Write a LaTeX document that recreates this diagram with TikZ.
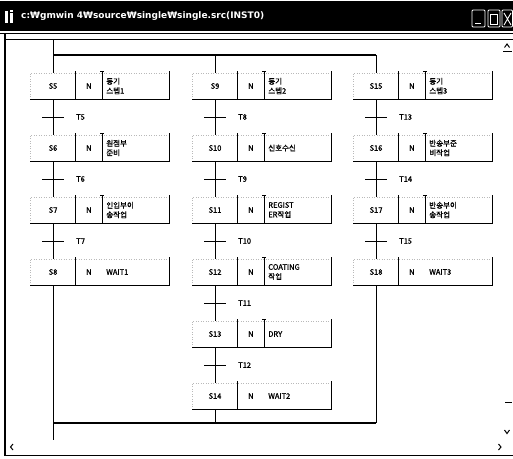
\documentclass[tikz,border=0pt]{standalone}
\usepackage{fontspec}
\newfontfamily\kr[FakeBold=1.2]{Noto Sans CJK KR}
\newfontfamily\dv{DejaVu Sans}
\tikzset{
  lab/.style={font=\kr\fontsize{7.5}{9.5}\selectfont},
  stepbox/.style={lab, minimum width=45pt, minimum height=26pt, inner sep=0pt},
  ncell/.style={lab, minimum width=26pt, minimum height=26pt, inner sep=0pt},
  acell/.style={lab, minimum height=26pt, inner xsep=4pt, inner ysep=0pt, text width=59pt, align=left},
  faint/.style={gray!55, dotted, line width=0.5pt},
  boxline/.style={black, line width=0.8pt},
  rail/.style={black, line width=1.7pt},
  conn/.style={black, line width=0.8pt},
  tlabel/.style={lab, anchor=west, inner sep=0pt},
  winline/.style={black, line width=1.4pt},
  glyph/.style={black, line width=1pt},
  btn/.style={white, line width=0.8pt, rounded corners=1pt},
}
\newcommand\sfcstep[5]{%
  \node[stepbox] (#1) at (#2,#3) {#4};
  \node[ncell, anchor=west] (#1n) at (#1.east) {N};
  \node[acell, anchor=west] (#1a) at (#1n.east) {#5};
  \draw[faint] (#1.south west) -- (#1.north west) -- (#1a.north east);
  \draw[boxline] (#1.south west) -- (#1a.south east) -- ([yshift=1.5pt]#1a.north east);
  \draw[boxline] (#1.south east) -- ([yshift=1.5pt]#1.north east);
}
\newcommand\sfcdiv[1]{%
  \draw[boxline] (#1n.south east) -- ([yshift=1.5pt]#1n.north east);
  \draw[boxline] ([xshift=-1.8pt,yshift=1.5pt]#1n.north east) -- ([xshift=1.8pt,yshift=1.5pt]#1n.north east);
}
\newcommand\sfctrans[4]{%
  \coordinate (#1) at (#2,#3);
  \draw[conn] ([xshift=-11pt]#1) -- ([xshift=11pt]#1);
  \node[tlabel] (#1l) at ([xshift=23pt]#1) {#4};
}
\begin{document}
\begin{tikzpicture}[x=1pt,y=-1pt]
\useasboundingbox (0,0) rectangle (513,458);
\fill[white] (0,0) rectangle (513,458);
% window frame
\fill[black] (0,1) rectangle (513,31);
\node[anchor=west, text=white, inner sep=0pt, font=\dv\bfseries\fontsize{9}{11}\selectfont] (title) at (21,16) {c:₩gmwin 4₩source₩single₩single.src(INST0)};
\fill[white] (5,11) rectangle (7.5,23);
\fill[white] (10,13) rectangle (12.5,23);
\fill[white] (10,9.5) rectangle (12.5,11.5);
\draw[btn] (472,10) rectangle (485,27);
\draw[btn] (475,23) -- (481,23);
\draw[btn] (488,10) rectangle (500,27);
\draw[white, line width=0.7pt] (490.5,14) rectangle (497.5,24);
\draw[btn] (502,10) rectangle (512.5,27);
\draw[white, line width=0.9pt] (504,13) -- (511,25) (511,13) -- (504,25);
\draw[winline] (0,33.5) -- (513,33.5);
\draw[black, line width=1pt] (5,39) -- (513,39);
\draw[black, line width=2pt] (5,33) -- (5,456);
\draw[winline] (5,455.5) -- (513,455.5);
% scroll glyphs
\draw[glyph] (504.5,47.5) -- (507,44) -- (509.5,47.5);
\draw[glyph] (503,51) -- (512,51);
\draw[glyph] (505,402) -- (512,402);
\draw[glyph] (504.5,430) -- (507,433.5) -- (509.5,430);
\draw[glyph] (13,444) -- (10.5,447) -- (13,450);
\draw[glyph] (498.5,444) -- (501,447) -- (498.5,450);
% column 1
\sfcstep{s5}{53}{86}{S5}{동기\\스텝1}\sfcdiv{s5}
\sfcstep{s6}{53}{148}{S6}{원점부\\준비}\sfcdiv{s6}
\sfcstep{s7}{53}{210}{S7}{인입부이\\송작업}\sfcdiv{s7}
\sfcstep{s8}{53}{272}{S8}{WAIT1}
% column 2
\sfcstep{s9}{215}{86}{S9}{동기\\스텝2}\sfcdiv{s9}
\sfcstep{s10}{215}{148}{S10}{신호수신}\sfcdiv{s10}
\sfcstep{s11}{215}{210}{S11}{REGIST\\ER작업}\sfcdiv{s11}
\sfcstep{s12}{215}{272}{S12}{COATING\\작업}\sfcdiv{s12}
\sfcstep{s13}{215}{334}{S13}{DRY}\sfcdiv{s13}
\sfcstep{s14}{215}{396}{S14}{WAIT2}
% column 3
\sfcstep{s15}{376}{86}{S15}{동기\\스텝3}\sfcdiv{s15}
\sfcstep{s16}{376}{148}{S16}{반송부준\\비작업}\sfcdiv{s16}
\sfcstep{s17}{376}{210}{S17}{반송부이\\송작업}\sfcdiv{s17}
\sfcstep{s18}{376}{272}{S18}{WAIT3}
% rails
\coordinate (rtop) at (53,39);
\coordinate (tl) at (53,55);
\coordinate (tm) at (215,55);
\coordinate (tr) at (376,55);
\coordinate (bl) at (53,423);
\coordinate (bm) at (215,423);
\coordinate (br) at (376,423);
\coordinate (rbot) at (53,440);
\draw[rail] (tl) -- (tr);
\draw[rail] (bl) -- (br);
\draw[conn] (rtop) -- (s5);
\draw[conn] (tm) -- (s9);
\draw[conn] (tr) -- (s15);
\draw[conn] (s8) -- (rbot);
\draw[conn] (s14) -- (bm);
\draw[conn] (s18) -- (br);
% step links
\draw[conn] (s5) -- (s6);
\draw[conn] (s6) -- (s7);
\draw[conn] (s7) -- (s8);
\draw[conn] (s9) -- (s10);
\draw[conn] (s10) -- (s11);
\draw[conn] (s11) -- (s12);
\draw[conn] (s12) -- (s13);
\draw[conn] (s13) -- (s14);
\draw[conn] (s15) -- (s16);
\draw[conn] (s16) -- (s17);
\draw[conn] (s17) -- (s18);
% transitions
\sfctrans{t5}{53}{117}{T5}
\sfctrans{t6}{53}{179}{T6}
\sfctrans{t7}{53}{241}{T7}
\sfctrans{t8}{215}{117}{T8}
\sfctrans{t9}{215}{179}{T9}
\sfctrans{t10}{215}{241}{T10}
\sfctrans{t11}{215}{303}{T11}
\sfctrans{t12}{215}{365}{T12}
\sfctrans{t13}{376}{117}{T13}
\sfctrans{t14}{376}{179}{T14}
\sfctrans{t15}{376}{241}{T15}
\end{tikzpicture}
\end{document}
